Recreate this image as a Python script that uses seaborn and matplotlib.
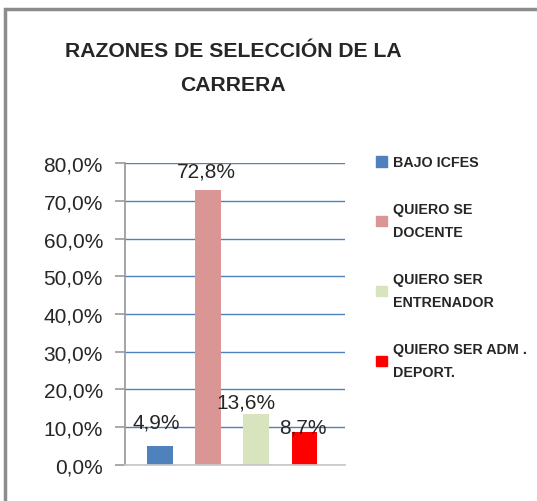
import matplotlib
matplotlib.use("Agg")
import matplotlib.pyplot as plt
import seaborn as sns
import pandas as pd
from matplotlib.patches import Rectangle

categories = ["BAJO ICFES", "QUIERO SE\nDOCENTE", "QUIERO SER\nENTRENADOR", "QUIERO SER ADM .\nDEPORT."]
values = [0.049, 0.728, 0.136, 0.087]
value_labels = ["4,9%", "72,8%", "13,6%", "8,7%"]
colors = ["#4f81bd", "#d99694", "#d7e4bd", "#ff0000"]
yticks = [0.0, 0.1, 0.2, 0.3, 0.4, 0.5, 0.6, 0.7, 0.8]
ytick_labels = ["0,0%", "10,0%", "20,0%", "30,0%", "40,0%", "50,0%", "60,0%", "70,0%", "80,0%"]
title = "RAZONES DE SELECCIÓN DE LA\nCARRERA"

sns.set_theme(style="white")
plt.rcParams["font.family"] = ["Liberation Sans", "DejaVu Sans"]

df = pd.DataFrame({"cat": categories, "val": values})

fig = plt.figure(figsize=(5.37, 5.02), dpi=100)
fig.patch.set_facecolor("white")
ax = fig.add_axes([0.233, 0.072, 0.410, 0.601])

sns.barplot(data=df, x="cat", y="val", hue="cat", palette=colors, dodge=False,
            width=0.53, ax=ax, legend=False, edgecolor="none", saturation=1)

ax.set_ylim(0, 0.8)
ax.set_xlim(-0.72, 3.85)
ax.set_yticks(yticks)
ax.set_yticklabels(ytick_labels, fontsize=15)
ax.set_xticks([])
ax.set_xlabel("")
ax.set_ylabel("")
ax.yaxis.grid(True, color="#4f81bd", linewidth=1.0)
ax.set_axisbelow(True)
for s in ["top", "right"]:
    ax.spines[s].set_visible(False)
ax.spines["left"].set_color("#999999")
ax.spines["bottom"].set_color("#c8c8c8")
ax.tick_params(axis="y", length=7, width=1.2, color="#999999", left=True, pad=9)

label_offsets = [0.065, 0.051, 0.031, 0.013]
label_dx = [-0.08, -0.04, -0.22, -0.04]
for i, (v, lab) in enumerate(zip(values, value_labels)):
    ax.text(i + label_dx[i], v + label_offsets[i], lab, ha="center", va="center", fontsize=15)

fig.text(0.434, 0.8635, title, ha="center", va="center", fontsize=15.2,
         fontweight="bold", linespacing=1.95)

handles = [Rectangle((0, 0), 1, 1, color=c) for c in colors]
leg = fig.legend(handles, categories, loc="upper left", bbox_to_anchor=(0.677, 0.714),
                 frameon=False, prop={"size": 10.3, "weight": "bold"},
                 handlelength=0.72, handleheight=0.72,
                 handletextpad=0.45, labelspacing=2.3)
for t in leg.get_texts():
    t.set_linespacing(1.8)

fig.add_artist(Rectangle((0.01, -0.01), 1.1, 0.99, transform=fig.transFigure,
                         fill=False, edgecolor="#8c8c8c", linewidth=2.5))

fig.savefig("out.png", dpi=100)
